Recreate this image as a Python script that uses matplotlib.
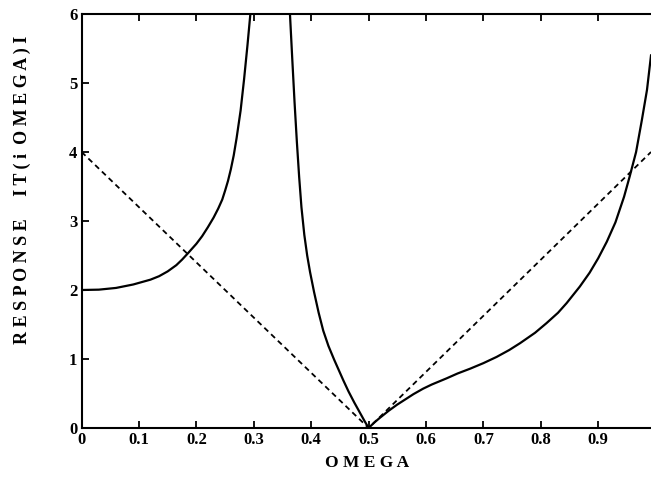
import matplotlib
matplotlib.use("Agg")
import matplotlib.pyplot as plt

# left branch of |T(i omega)| (rises to the pole near 0.3)
omega_a = [0.0, 0.03, 0.06, 0.09, 0.12, 0.135, 0.15, 0.165, 0.175, 0.185, 0.2, 0.21, 0.22,
           0.23, 0.238, 0.245, 0.25, 0.255, 0.26, 0.265, 0.27, 0.277, 0.283, 0.289, 0.294, 0.297]
resp_a = [2.0, 2.005, 2.03, 2.08, 2.15, 2.2, 2.27, 2.36, 2.44, 2.53, 2.67, 2.78, 2.91,
          3.05, 3.18, 3.31, 3.44, 3.58, 3.75, 3.95, 4.2, 4.6, 5.05, 5.55, 6.0, 6.4]

# branch coming down from the pole to the zero at 0.5
omega_b = [0.361, 0.363, 0.367, 0.371, 0.375, 0.379, 0.383, 0.388, 0.393, 0.398, 0.405,
           0.413, 0.421, 0.430, 0.440, 0.448, 0.456, 0.465, 0.475, 0.485, 0.493, 0.5]
resp_b = [6.4, 6.0, 5.35, 4.72, 4.15, 3.64, 3.2, 2.8, 2.5, 2.26, 1.97,
          1.67, 1.41, 1.19, 0.99, 0.84, 0.69, 0.53, 0.37, 0.22, 0.1, 0.0]

# branch rising again after 0.5
omega_c = [0.5, 0.51, 0.52, 0.535, 0.55, 0.565, 0.578, 0.595, 0.61, 0.636, 0.655, 0.677,
           0.70, 0.723, 0.745, 0.764, 0.79, 0.81, 0.83, 0.845, 0.868, 0.885, 0.9, 0.915,
           0.93, 0.945, 0.955, 0.966, 0.976, 0.985, 0.992]
resp_c = [0.0, 0.08, 0.15, 0.25, 0.34, 0.42, 0.49, 0.57, 0.63, 0.72, 0.79, 0.86,
          0.94, 1.03, 1.13, 1.23, 1.38, 1.52, 1.67, 1.81, 2.05, 2.25, 2.46, 2.7,
          2.98, 3.35, 3.65, 4.0, 4.46, 4.9, 5.4]

# dashed reference line
omega_d = [0.0, 0.5, 0.992]
resp_d = [4.0, 0.0, 4.0]

x_ticks = [0, 0.1, 0.2, 0.3, 0.4, 0.5, 0.6, 0.7, 0.8, 0.9]
x_labels = ["0", "0.1", "0.2", "0.3", "0.4", "0.5", "0.6", "0.7", "0.8", "0.9"]
y_ticks = [0, 1, 2, 3, 4, 5, 6]

plt.rcParams['font.family'] = ['Liberation Serif', 'DejaVu Serif']
plt.rcParams['font.weight'] = 'bold'

px = 1/100
fig = plt.figure(figsize=(651*px, 485*px), dpi=100)
ax = fig.add_axes([81.6/651, 57/485, 574/651, 414/485])

ax.plot(omega_a, resp_a, color='black', lw=1.6)
ax.plot(omega_b, resp_b, color='black', lw=1.6)
ax.plot(omega_c, resp_c, color='black', lw=1.6)
ax.plot(omega_d, resp_d, color='black', lw=1.3, dashes=(3, 2.2))

ax.set_xlim(0, 1.0)
ax.set_ylim(0, 6)
ax.set_xticks(x_ticks)
ax.set_xticklabels(x_labels)
ax.set_yticks(y_ticks)
ax.tick_params(direction='in', length=5, width=1.3, labelsize=12, pad=3,
               top=True, right=False)
for lab in ax.get_xticklabels() + ax.get_yticklabels():
    lab.set_fontweight('bold')
for s in ['left', 'bottom', 'top']:
    ax.spines[s].set_linewidth(1.5)
ax.spines['right'].set_visible(False)

fig.text(367/651, 1-463/485, "O M E G A", ha='center', va='center',
         fontsize=12.5, fontweight='bold')
fig.text(22/651, 1-190/485, "R E S P O N S E     I T ( i  O M E G A ) I",
         ha='center', va='center', rotation=90, fontsize=13, fontweight='bold')

plt.savefig("out.png", dpi=100)
